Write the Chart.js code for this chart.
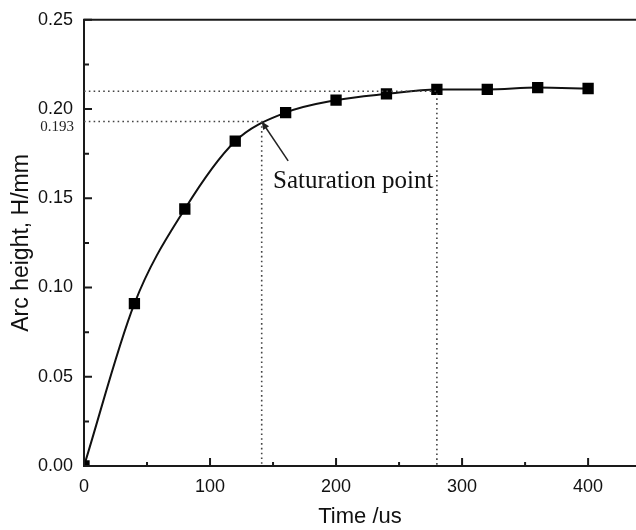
<!DOCTYPE html>
<html>
<head>
<meta charset="utf-8">
<script src="https://cdn.jsdelivr.net/npm/chart.js@4/dist/chart.umd.min.js"></script>
<style>
  html, body { margin: 0; padding: 0; background: #fff; overflow: hidden; }
  #wrap { width: 636px; height: 530px; position: relative; overflow: hidden; }
  #c { position: absolute; left: 0; top: -2px; }
</style>
</head>
<body>
<div id="wrap"><canvas id="c" width="644" height="532"></canvas></div>
<script>
// ---- data ----
const times = [0, 40, 80, 120, 160, 200, 240, 280, 320, 360, 400];
const arcHeight = [0, 0.091, 0.144, 0.182, 0.198, 0.205, 0.2085, 0.211, 0.211, 0.212, 0.2115];
const xTickValues = [0, 100, 200, 300, 400];
const yTickValues = [0, 0.05, 0.10, 0.15, 0.20, 0.25];
const plateauLevel = 0.21;
const plateauTime = 280;
const saturationTime = 141;
const saturationLevel = 0.193;
const saturationLabel = "Saturation point";
const saturationLabelPos = [150, 0.156];
const arrowTail = [162, 0.171];
const xTitle = "Time /us";
const yTitle = "Arc height, H/mm";

const axisColor = '#1a1a1a';
const dotColor = '#444';

const mainPoints = times.map((t, i) => ({x: t, y: arcHeight[i]}));
const plateauGuide = [{x: 0, y: plateauLevel}, {x: plateauTime, y: plateauLevel}, {x: plateauTime, y: 0}];
const saturationGuide = [{x: 0, y: saturationLevel}, {x: saturationTime, y: saturationLevel}, {x: saturationTime, y: 0}];

const decorPlugin = {
  id: 'decor',
  afterDatasetsDraw(chart) {
    const ctx = chart.ctx;
    const xs = chart.scales.x, ys = chart.scales.y;
    const a = chart.chartArea;
    ctx.save();
    ctx.strokeStyle = axisColor;
    ctx.lineWidth = 2;
    // top border
    ctx.beginPath();
    ctx.moveTo(a.left - 1, a.top);
    ctx.lineTo(a.right + 10, a.top);
    ctx.stroke();
    // x ticks (inward)
    ctx.beginPath();
    for (let v = 0; v <= 450; v += 50) {
      const px = xs.getPixelForValue(v);
      if (px > a.right) break;
      const len = (v % 100 === 0) ? 8 : 4;
      ctx.moveTo(px, a.bottom);
      ctx.lineTo(px, a.bottom - len);
    }
    // y ticks (inward)
    for (let k = 0; k <= 10; k++) {
      const v = k * 0.025;
      const py = ys.getPixelForValue(v);
      const len = (k % 2 === 0) ? 8 : 5;
      ctx.moveTo(a.left, py);
      ctx.lineTo(a.left + len, py);
    }
    ctx.stroke();

    // 0.193 label
    ctx.fillStyle = '#222';
    ctx.font = '15px "Liberation Serif", "Times New Roman", serif';
    ctx.textAlign = 'right';
    ctx.textBaseline = 'middle';
    ctx.fillText(saturationLevel.toFixed(3), a.left - 10, ys.getPixelForValue(saturationLevel) + 6);

    // annotation text
    ctx.font = '25px "Liberation Serif", "Times New Roman", serif';
    ctx.textAlign = 'left';
    ctx.textBaseline = 'alphabetic';
    ctx.fillStyle = '#111';
    ctx.fillText(saturationLabel, xs.getPixelForValue(saturationLabelPos[0]), ys.getPixelForValue(saturationLabelPos[1]));

    // arrow
    const hx = xs.getPixelForValue(saturationTime), hy = ys.getPixelForValue(saturationLevel);
    const tx = xs.getPixelForValue(arrowTail[0]), ty = ys.getPixelForValue(arrowTail[1]);
    const ang = Math.atan2(hy - ty, hx - tx);
    ctx.strokeStyle = '#222';
    ctx.lineWidth = 1.5;
    ctx.beginPath();
    ctx.moveTo(tx, ty);
    ctx.lineTo(hx - Math.cos(ang) * 3, hy - Math.sin(ang) * 3);
    ctx.stroke();
    ctx.fillStyle = '#222';
    ctx.beginPath();
    const L = 8, W = 3.5;
    ctx.moveTo(hx, hy);
    ctx.lineTo(hx - L * Math.cos(ang) + W * Math.sin(ang), hy - L * Math.sin(ang) - W * Math.cos(ang));
    ctx.lineTo(hx - L * Math.cos(ang) - W * Math.sin(ang), hy - L * Math.sin(ang) + W * Math.cos(ang));
    ctx.closePath();
    ctx.fill();
    ctx.restore();
  }
};

new Chart(document.getElementById('c'), {
  type: 'line',
  data: {
    datasets: [
      {
        label: 'plateau',
        data: plateauGuide,
        borderColor: dotColor,
        borderWidth: 1.6,
        borderDash: [1.6, 3.2],
        pointRadius: 0,
        tension: 0,
        fill: false
      },
      {
        label: 'saturation',
        data: saturationGuide,
        borderColor: dotColor,
        borderWidth: 1.6,
        borderDash: [1.6, 3.2],
        pointRadius: 0,
        tension: 0,
        fill: false
      },
      {
        label: 'Arc height',
        data: mainPoints,
        borderColor: '#111',
        borderWidth: 2,
        backgroundColor: '#000',
        pointStyle: 'rect',
        pointRadius: 8,
        pointBorderWidth: 0,
        pointBackgroundColor: '#000',
        cubicInterpolationMode: 'monotone',
        fill: false
      }
    ]
  },
  options: {
    responsive: false,
    animation: false,
    events: [],
    layout: { padding: { top: 16, right: 0, left: 0, bottom: 0 } },
    plugins: { legend: { display: false }, tooltip: { enabled: false } },
    scales: {
      x: {
        type: 'linear',
        min: 0,
        max: 438,
        afterFit(scale) { scale.height = 64; },
        afterBuildTicks(scale) { scale.ticks = xTickValues.map(v => ({value: v})); },
        grid: { display: false, drawTicks: false },
        border: { display: true, color: axisColor, width: 2 },
        ticks: {
          padding: 10,
          color: '#111',
          font: { family: '"Liberation Sans", Arial, sans-serif', size: 18 },
          maxRotation: 0,
          callback: v => String(v)
        },
        title: {
          display: true,
          text: xTitle,
          color: '#111',
          font: { family: '"Liberation Sans", Arial, sans-serif', size: 22 },
          padding: { top: 0, bottom: 0 }
        }
      },
      y: {
        type: 'linear',
        min: 0,
        max: 0.25,
        afterFit(scale) { scale.width = 84; },
        afterBuildTicks(scale) { scale.ticks = yTickValues.map(v => ({value: v})); },
        grid: { display: false, drawTicks: false },
        border: { display: true, color: axisColor, width: 2 },
        ticks: {
          padding: 11,
          color: '#111',
          font: { family: '"Liberation Sans", Arial, sans-serif', size: 18 },
          callback: v => Number(v).toFixed(2)
        },
        title: {
          display: true,
          text: yTitle,
          color: '#111',
          font: { family: '"Liberation Sans", Arial, sans-serif', size: 23 },
          padding: { top: 8, bottom: 0 }
        }
      }
    }
  },
  plugins: [decorPlugin]
});
</script>
</body>
</html>
